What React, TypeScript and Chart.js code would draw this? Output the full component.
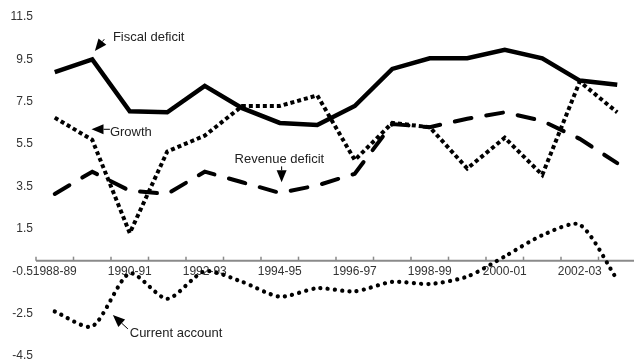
import React, { useEffect, useRef } from 'react';
import { Chart, registerables } from 'chart.js';

Chart.register(...registerables);

const categories = [
  '1988-89', '1989-90', '1990-91', '1991-92', '1992-93', '1993-94', '1994-95', '1995-96',
  '1996-97', '1997-98', '1998-99', '1999-00', '2000-01', '2001-02', '2002-03', '2003-04',
];
const fiscalDeficit = [8.9, 9.5, 7.05, 7.0, 8.25, 7.2, 6.5, 6.4, 7.3, 9.05, 9.55, 9.55, 9.95, 9.55, 8.5, 8.3];
const growth = [6.75, 5.7, 1.3, 5.15, 5.9, 7.3, 7.3, 7.8, 4.75, 6.5, 6.3, 4.35, 5.8, 4.05, 8.45, 7.0];
const revenueDeficit = [3.15, 4.2, 3.3, 3.15, 4.2, 3.7, 3.2, 3.55, 4.1, 6.45, 6.3, 6.7, 7.0, 6.6, 5.75, 4.6];
const currentAccount = [-2.4, -3.1, -0.6, -1.8, -0.5, -1.0, -1.7, -1.3, -1.45, -1.0, -1.1, -0.75, 0.2, 1.2, 1.7, -0.9];
const yTicks = [-4.5, -2.5, -0.5, 1.5, 3.5, 5.5, 7.5, 9.5, 11.5];

// annotation labels anchored in data coordinates: [category index, value]
const annotationTexts = ['Fiscal deficit', 'Growth', 'Revenue deficit', 'Current account'];
const annotationTextAt = [[1.55, 10.55], [1.47, 6.05], [5.99, 4.8], [2.0, -3.42]];
const annotationAlign = ['left', 'left', 'center', 'left'];
const annotationFrom = [[1.32, 10.45], [1.47, 6.2], [6.05, 4.45], [1.95, -3.22]];
const annotationTo = [[1.07, 9.9], [0.98, 6.2], [6.05, 3.7], [1.55, -2.57]];

const FONT = "'Liberation Sans', Arial, sans-serif";

const axisPlugin = {
  id: 'zeroAxis',
  beforeDatasetsDraw(chart: any) {
    const { ctx, chartArea, scales } = chart;
    const xs = scales.x;
    const ys = scales.y;
    const y0 = ys.getPixelForValue(0);
    ctx.save();
    ctx.strokeStyle = '#8a8a8a';
    ctx.lineWidth = 2;
    ctx.beginPath();
    ctx.moveTo(chartArea.left, y0);
    ctx.lineTo(chartArea.right, y0);
    ctx.stroke();
    ctx.lineWidth = 1.5;
    for (let i = 0; i <= categories.length; i++) {
      const x = xs.getPixelForValue(i - 0.5);
      ctx.beginPath();
      ctx.moveTo(x, y0);
      ctx.lineTo(x, y0 - 4);
      ctx.stroke();
    }
    ctx.restore();
  },
};

const annotationPlugin = {
  id: 'labels',
  afterDatasetsDraw(chart: any) {
    const { ctx, scales } = chart;
    const xs = scales.x;
    const ys = scales.y;
    const px = (p: number[]) => [xs.getPixelForValue(p[0]), ys.getPixelForValue(p[1])];
    ctx.save();
    ctx.font = `13px ${FONT}`;
    ctx.textBaseline = 'middle';
    annotationTexts.forEach((t, i) => {
      const [tx, ty] = px(annotationTextAt[i]);
      ctx.fillStyle = '#222';
      ctx.textAlign = annotationAlign[i];
      ctx.fillText(t, tx, ty);
      const [fx, fy] = px(annotationFrom[i]);
      const [ex, ey] = px(annotationTo[i]);
      const ang = Math.atan2(ey - fy, ex - fx);
      const len = 12;
      const hw = 5;
      const bx = ex - len * Math.cos(ang);
      const by = ey - len * Math.sin(ang);
      ctx.strokeStyle = '#000';
      ctx.lineWidth = 1;
      ctx.beginPath();
      ctx.moveTo(fx, fy);
      ctx.lineTo(bx, by);
      ctx.stroke();
      ctx.fillStyle = '#000';
      ctx.beginPath();
      ctx.moveTo(ex, ey);
      ctx.lineTo(bx + hw * Math.sin(ang), by - hw * Math.cos(ang));
      ctx.lineTo(bx - hw * Math.sin(ang), by + hw * Math.cos(ang));
      ctx.closePath();
      ctx.fill();
    });
    ctx.restore();
  },
};

export default function App() {
  const ref = useRef<HTMLCanvasElement | null>(null);
  useEffect(() => {
    if (!ref.current) return;
    const chart = new Chart(ref.current, {
      type: 'line',
      data: {
        labels: categories,
        datasets: [
          {
            label: 'Fiscal deficit',
            data: fiscalDeficit,
            borderColor: '#000',
            borderWidth: 4.5,
            pointRadius: 0,
            tension: 0,
          },
          {
            label: 'Growth',
            data: growth,
            borderColor: '#000',
            borderWidth: 4,
            borderDash: [4, 3],
            borderCapStyle: 'butt',
            pointRadius: 0,
            tension: 0,
          },
          {
            label: 'Revenue deficit',
            data: revenueDeficit,
            borderColor: '#000',
            borderWidth: 4,
            borderDash: [17, 15],
            borderCapStyle: 'round',
            pointRadius: 0,
            tension: 0,
          },
          {
            label: 'Current account',
            data: currentAccount,
            borderColor: '#000',
            borderWidth: 4.2,
            borderDash: [0.1, 7.2],
            borderCapStyle: 'round',
            pointRadius: 0,
            tension: 0.25,
          },
        ],
      },
      options: {
        responsive: false,
        animation: false,
        devicePixelRatio: 1,
        layout: { padding: { left: 0, right: 4, top: 17, bottom: 16 } },
        plugins: { legend: { display: false }, tooltip: { enabled: false } },
        scales: {
          x: {
            type: 'category',
            offset: true,
            position: { y: 0 } as any,
            grid: { display: false, drawTicks: false },
            border: { display: false },
            ticks: {
              autoSkip: false,
              maxRotation: 0,
              padding: 4,
              color: '#333',
              font: { family: FONT, size: 12 },
              callback: (_v: any, i: number) => (i % 2 === 0 ? categories[i] : ''),
            },
          },
          y: {
            min: -4.5,
            max: 11.5,
            grid: { display: false, drawTicks: false },
            border: { display: false },
            afterBuildTicks: (s: any) => {
              s.ticks = yTicks.map((v) => ({ value: v }));
            },
            afterFit: (s: any) => {
              s.width = 36;
            },
            ticks: {
              padding: 3,
              color: '#333',
              font: { family: FONT, size: 12 },
              callback: (v: any) => String(v),
            },
          },
        },
      },
      plugins: [axisPlugin, annotationPlugin],
    });
    return () => chart.destroy();
  }, []);
  return (
    <div
      style={{
        position: 'fixed',
        left: 0,
        top: 0,
        width: 634,
        height: 361,
        overflow: 'hidden',
        background: '#fff',
      }}
    >
      <canvas ref={ref} width={640} height={372} style={{ display: 'block', width: 640, height: 372 }} />
    </div>
  );
}
